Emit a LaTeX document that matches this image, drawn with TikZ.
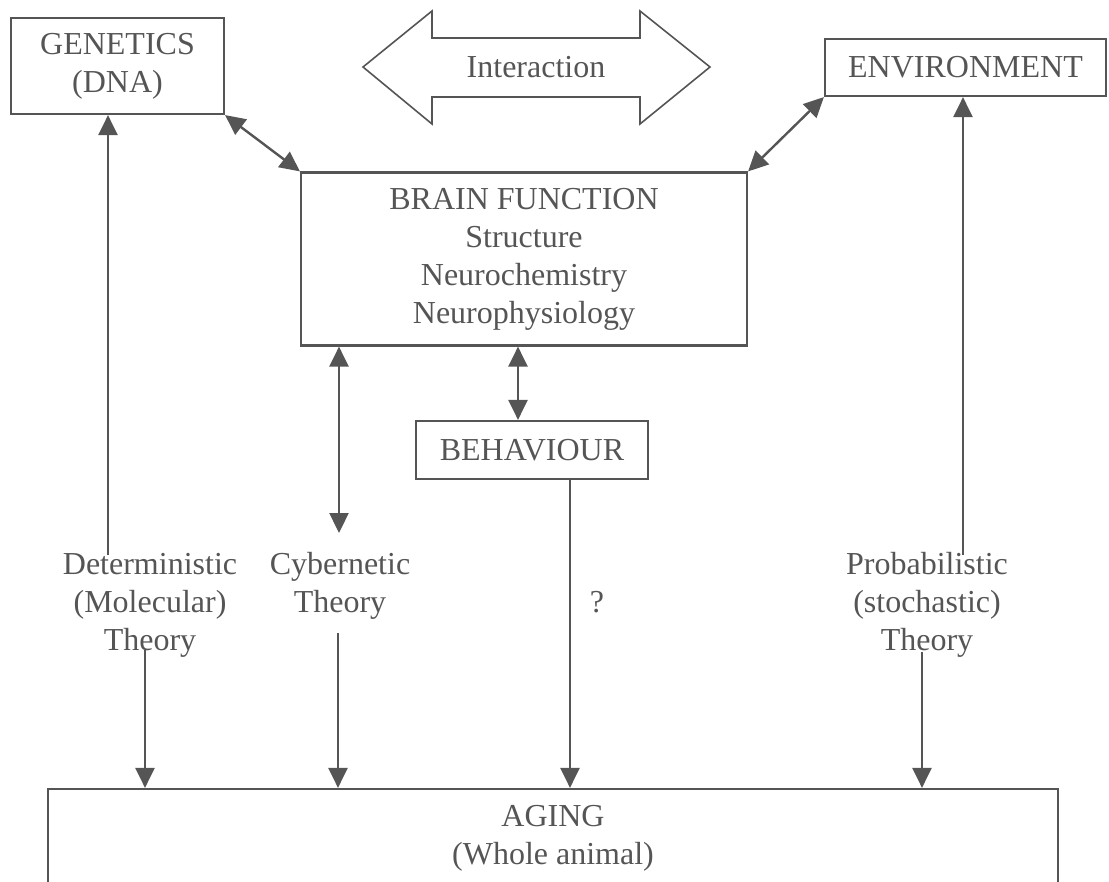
\documentclass[tikz,border=0pt]{standalone}
\usepackage{fontspec}
\setmainfont{Liberation Serif}
\usetikzlibrary{arrows.meta}

\definecolor{ink}{HTML}{555555}

\begin{document}
\begin{tikzpicture}[x=1pt,y=-1pt,
    >={Triangle[length=20pt,width=19pt]},
    every node/.style={text=ink, font=\fontsize{32}{38}\selectfont, align=center},
    box/.style={draw=ink, line width=2.2pt, inner sep=0pt},
    link/.style={draw=ink, fill=ink, line width=2.4pt}]
  \useasboundingbox (0,0) rectangle (1109,882);

  \node[box, minimum width=213pt, minimum height=96pt] (gen) at (117.5,66) {GENETICS\\(DNA)};
  \node[box, minimum width=281pt, minimum height=57pt] (env) at (965.5,67.5) {ENVIRONMENT};
  \node[box, minimum width=446pt, minimum height=173pt] (brain) at (524,259)
    {BRAIN FUNCTION\\Structure\\Neurochemistry\\Neurophysiology};
  \node[box, minimum width=232pt, minimum height=58pt] (beh) at (532,450) {BEHAVIOUR};
  \node[box, minimum width=1010pt, minimum height=98pt] (aging) at (553,838) {AGING\\(Whole animal)};

  \draw[ink, line width=1.6pt] (363,67) -- (432,11) -- (432,38) -- (640,38) -- (640,11)
    -- (710,67) -- (640,124) -- (640,97) -- (432,97) -- (432,124) -- cycle;
  \node (inter) at (536,67) {Interaction};

  \node (det) at (150,605) {Deterministic\\(Molecular)\\Theory};
  \node (cyb) at (340,586) {Cybernetic\\Theory};
  \node (prob) at (927,605) {Probabilistic\\(stochastic)\\Theory};
  \node (q) at (597,602) {?};

  \coordinate (detup) at (108,555);
  \coordinate (envup) at (963,555);
  \coordinate (cybup) at (339,533);
  \coordinate (detdn) at (145,650);
  \coordinate (cybdn) at (338,633);
  \coordinate (probdn) at (922,652);

  \draw[link]
    (gen.south east) edge[<->] (brain.north west)
    (env.south west) edge[<->] (brain.north east)
    (detup) edge[->] (detup |- gen.south)
    (envup) edge[->] (envup |- env.south)
    (cybup |- brain.south) edge[<->] (cybup)
    (brain.south -| 518,0) edge[<->] (beh.north -| 518,0)
    (beh.south -| 570,0) edge[->] (aging.north -| 570,0)
    (detdn) edge[->] (detdn |- aging.north)
    (cybdn) edge[->] (cybdn |- aging.north)
    (probdn) edge[->] (probdn |- aging.north);
\end{tikzpicture}
\end{document}
